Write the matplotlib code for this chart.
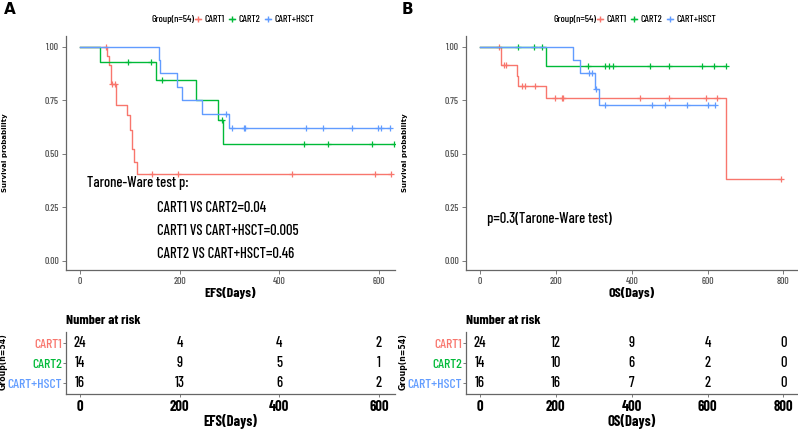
import matplotlib
matplotlib.use('Agg')
import matplotlib.pyplot as plt
import numpy as np
from matplotlib.lines import Line2D
from matplotlib import font_manager

avail = {f.name for f in font_manager.fontManager.ttflist}
NARROW = 'Liberation Sans'
for cand in ['Barlow Condensed', 'Roboto Condensed', 'Archivo Narrow', 'Liberation Sans Narrow']:
    if cand in avail:
        NARROW = cand
        break
plt.rcParams['font.family'] = [NARROW, 'DejaVu Sans']
plt.rcParams['font.weight'] = 500

# ---------------- data ----------------
groups = ['CART1', 'CART2', 'CART+HSCT']
colors = ['#F8766D', '#00BA38', '#619CFF']

# Panel A: EFS  (step times, survival after step, censor times)
efs_cart1_t = [0, 55, 59, 63, 73, 95, 100, 105, 108, 115]
efs_cart1_s = [1.0, 0.957, 0.913, 0.826, 0.729, 0.680, 0.611, 0.520, 0.463, 0.406]
efs_cart1_c = [52, 64, 70, 145, 197, 425, 592, 623]

efs_cart2_t = [0, 41, 153, 232, 276, 287]
efs_cart2_s = [1.0, 0.9286, 0.844, 0.750, 0.656, 0.547]
efs_cart2_c = [97, 142, 164, 285, 450, 498, 585, 630]

efs_hsct_t = [0, 158, 161, 195, 205, 245, 299]
efs_hsct_s = [1.0, 0.9375, 0.875, 0.8125, 0.75, 0.6875, 0.619]
efs_hsct_c = [293, 305, 329, 332, 453, 488, 545, 597, 603, 621]

# Panel B: OS
os_cart1_t = [0, 55, 97, 101, 175, 649]
os_cart1_s = [1.0, 0.913, 0.864, 0.818, 0.760, 0.380]
os_cart1_c = [51, 62, 68, 110, 118, 145, 198, 215, 219, 421, 498, 595, 624, 795]

os_cart2_t = [0, 175]
os_cart2_s = [1.0, 0.909]
os_cart2_c = [99, 143, 164, 285, 329, 341, 350, 449, 498, 586, 617, 648]

os_hsct_t = [0, 244, 264, 303, 315]
os_hsct_s = [1.0, 0.9375, 0.875, 0.802, 0.729]
os_hsct_c = [288, 295, 306, 330, 454, 488, 547, 601, 621]

# Number at risk
efs_risk_times = [0, 200, 400, 600]
efs_risk_cart1 = [24, 4, 4, 2]
efs_risk_cart2 = [14, 9, 5, 1]
efs_risk_hsct = [16, 13, 6, 2]

os_risk_times = [0, 200, 400, 600, 800]
os_risk_cart1 = [24, 12, 9, 4, 0]
os_risk_cart2 = [14, 10, 6, 2, 0]
os_risk_hsct = [16, 16, 7, 2, 0]

efs_pvals = ['CART1 VS CART2=0.04', 'CART1 VS CART+HSCT=0.005', 'CART2 VS CART+HSCT=0.46']
os_pval = 'p=0.3(Tarone-Ware test)'

# ---------------- figure ----------------
W, H = 798, 433
fig = plt.figure(figsize=(W / 100, H / 100), dpi=100)

def fx(px):
    return px / W

def fy(py):
    return 1 - py / H

SPINE = '#666666'
TICKC = '#4d4d4d'

def style_spines(ax):
    for sp in ['top', 'right']:
        ax.spines[sp].set_visible(False)
    for sp in ['left', 'bottom']:
        ax.spines[sp].set_color(SPINE)
        ax.spines[sp].set_linewidth(0.9)

def km_panel(ax, curves, xlim, xticks, xlabel):
    for (t, s, c), col in zip(curves, colors):
        t = np.asarray(t, float)
        s = np.asarray(s, float)
        end = max(c)
        tt = np.append(t, end)
        ss = np.append(s, s[-1])
        ax.step(tt, ss, where='post', color=col, lw=1.0)
        c = np.asarray(c, float)
        idx = np.searchsorted(t, c, side='right') - 1
        ax.plot(c, s[idx], ls='none', marker='+', color=col, ms=4, mew=0.9)
    ax.set_xlim(*xlim)
    ax.set_ylim(-0.043, 1.05)
    ax.set_xticks(xticks)
    ax.set_yticks([0, 0.25, 0.5, 0.75, 1.0])
    ax.set_yticklabels(['0.00', '0.25', '0.50', '0.75', '1.00'])
    style_spines(ax)
    ax.tick_params(colors=SPINE, labelcolor=TICKC, labelsize=7, length=3, width=0.6, pad=2)
    ax.set_xlabel(xlabel, fontsize=10, fontweight='bold', labelpad=1)

def risk_panel(ax, times, rows, xlim, xlabel):
    for i, r in enumerate(rows):
        for t, n in zip(times, r):
            ax.text(t, i + 1, str(n), ha='center', va='center', fontsize=10.5, color='black')
    ax.set_xlim(*xlim)
    ax.set_ylim(3.55, 0.45)
    style_spines(ax)
    ax.tick_params(colors=SPINE, length=2.5, width=0.6, pad=2)
    ax.tick_params(axis='y', length=2, pad=1)
    ax.set_yticks([1, 2, 3])
    ax.set_yticklabels(groups, fontsize=9.8)
    for lab, col in zip(ax.get_yticklabels(), colors):
        lab.set_color(col)
    ax.set_xticks(times)
    ax.set_xticklabels([str(t) for t in times], fontsize=10.5, fontweight='bold', color='black')
    ax.set_xlabel(xlabel, fontsize=10.5, fontweight='bold', labelpad=0)
    ax.set_title('Number at risk', loc='left', fontsize=10, fontweight='bold', pad=6)

# Panel A
axA = fig.add_axes([fx(66), fy(270), fx(395 - 66), (270 - 36) / H])
km_panel(axA, [(efs_cart1_t, efs_cart1_s, efs_cart1_c),
               (efs_cart2_t, efs_cart2_s, efs_cart2_c),
               (efs_hsct_t, efs_hsct_s, efs_hsct_c)],
         (-28, 632), [0, 200, 400, 600], 'EFS(Days)')
axA.text(14, 0.364, 'Tarone-Ware test p:', fontsize=10.5, ha='left', va='center')
for k, txt in enumerate(efs_pvals):
    axA.text(154, 0.247 - k * 0.107, txt, fontsize=10.5, ha='left', va='center')

# Panel B
axB = fig.add_axes([fx(466), fy(270), fx(797 - 466), (270 - 36) / H])
km_panel(axB, [(os_cart1_t, os_cart1_s, os_cart1_c),
               (os_cart2_t, os_cart2_s, os_cart2_c),
               (os_hsct_t, os_hsct_s, os_hsct_c)],
         (-37, 836), [0, 200, 400, 600, 800], 'OS(Days)')
axB.text(18, 0.195, os_pval, fontsize=10.5, ha='left', va='center')

# Risk tables
tA = fig.add_axes([fx(66), fy(394), fx(395 - 66), (394 - 332) / H])
risk_panel(tA, efs_risk_times, [efs_risk_cart1, efs_risk_cart2, efs_risk_hsct], (-28, 632), 'EFS(Days)')
tB = fig.add_axes([fx(466), fy(394), fx(797 - 466), (394 - 332) / H])
risk_panel(tB, os_risk_times, [os_risk_cart1, os_risk_cart2, os_risk_hsct], (-37, 836), 'OS(Days)')

# y labels
for x0 in (3.2, 403):
    fig.text(fx(x0 + 2), fy(153), 'Survival probability', rotation=90, ha='center', va='center',
             fontsize=5, fontweight='bold', family='DejaVu Sans')
    fig.text(fx(x0), fy(362), 'Group(n=54)', rotation=90, ha='center', va='center',
             fontsize=5.6, fontweight='bold', family='DejaVu Sans')

# panel letters
fig.text(fx(4), fy(10), 'A', fontsize=11, fontweight='bold', family='DejaVu Sans', va='center')
fig.text(fx(402), fy(10), 'B', fontsize=11, fontweight='bold', family='DejaVu Sans', va='center')

# legends
handles = [Line2D([0], [0], color=c, lw=1, marker='+', ms=4) for c in colors]
for xstart in (194, 596):
    fig.text(fx(xstart), fy(20), 'Group(n=54)', ha='right', va='center', fontsize=7.2)
    fig.legend(handles, groups, loc='center left', bbox_to_anchor=(fx(xstart + 1), fy(20)),
               ncol=3, frameon=False, fontsize=7.2, handlelength=0.6, handletextpad=0.35,
               columnspacing=0.45, borderpad=0, borderaxespad=0)

fig.savefig('out.png', dpi=100)
